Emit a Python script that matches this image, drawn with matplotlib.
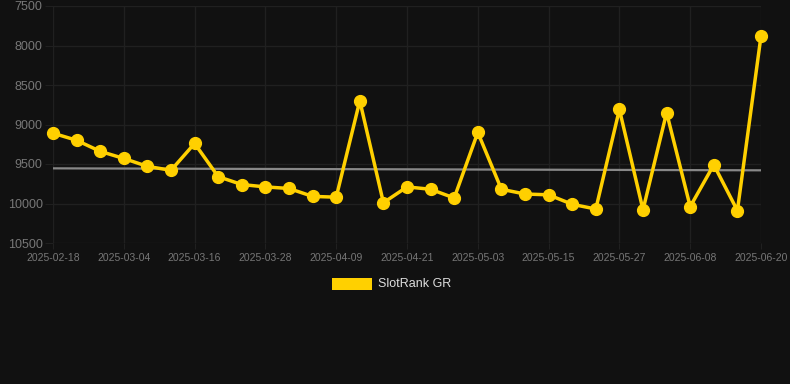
import matplotlib
matplotlib.use("Agg")
import matplotlib.pyplot as plt
from matplotlib.patches import Rectangle

dates = ["2025-02-18", "2025-02-22", "2025-02-27", "2025-03-04", "2025-03-08", "2025-03-12",
         "2025-03-16", "2025-03-20", "2025-03-24", "2025-03-28", "2025-04-01", "2025-04-05",
         "2025-04-09", "2025-04-13", "2025-04-17", "2025-04-21", "2025-04-25", "2025-04-29",
         "2025-05-03", "2025-05-07", "2025-05-11", "2025-05-15", "2025-05-19", "2025-05-23",
         "2025-05-27", "2025-05-31", "2025-06-04", "2025-06-08", "2025-06-12", "2025-06-16",
         "2025-06-20"]
ranks = [9110, 9200, 9340, 9430, 9530, 9580, 9240, 9660, 9760, 9790, 9810, 9910, 9920,
         8700, 9990, 9790, 9820, 9930, 9100, 9820, 9880, 9890, 10010, 10070, 8810, 10080,
         8850, 10040, 9510, 10090, 7880]
trend_ends = [9555, 9580]
yticks = [7500, 8000, 8500, 9000, 9500, 10000, 10500]
series_name = "SlotRank GR"

bg = "#111111"
gold = "#FFD000"
grid_c = "#202020"
plt.rcParams['font.family'] = ['Liberation Sans', 'DejaVu Sans']

fig = plt.figure(figsize=(7.9, 3.84), dpi=100, facecolor=bg)
W, H = 790, 384
ax = fig.add_axes([53 / W, 1 - 243 / H, (761 - 53) / W, (243 - 6) / H])
ax.set_facecolor(bg)

x = list(range(len(dates)))
ax.plot([0, len(dates) - 1], trend_ends, color="#888888", lw=1.6, zorder=2)
ax.plot(x, ranks, color=gold, lw=2.5, marker="o", markersize=8.5, zorder=3, clip_on=False)

ax.set_xlim(0, len(dates) - 1)
ax.set_ylim(10500, 7500)
ax.set_yticks(yticks)
ax.set_yticklabels([str(v) for v in yticks])
tick_idx = list(range(0, len(dates), 3))
ax.set_xticks(tick_idx)
ax.set_xticklabels([dates[i] for i in tick_idx])

ax.grid(True, color=grid_c, lw=1)
ax.set_axisbelow(True)
for s in ax.spines.values():
    s.set_visible(False)
ax.tick_params(axis="y", colors="#777777", labelsize=9, length=6, color=grid_c, pad=1.5)
ax.tick_params(axis="x", colors="#777777", labelsize=7.5, length=4, color=grid_c, pad=3)

fig.patches.append(Rectangle((332 / W, 1 - 290 / H), 40 / W, 12 / H,
                             transform=fig.transFigure, facecolor=gold, edgecolor="none"))
fig.text(378 / W, 1 - 284 / H, series_name, color="#dddddd", fontsize=9,
         va="center", ha="left")

fig.savefig("out.png", dpi=100, facecolor=bg)
